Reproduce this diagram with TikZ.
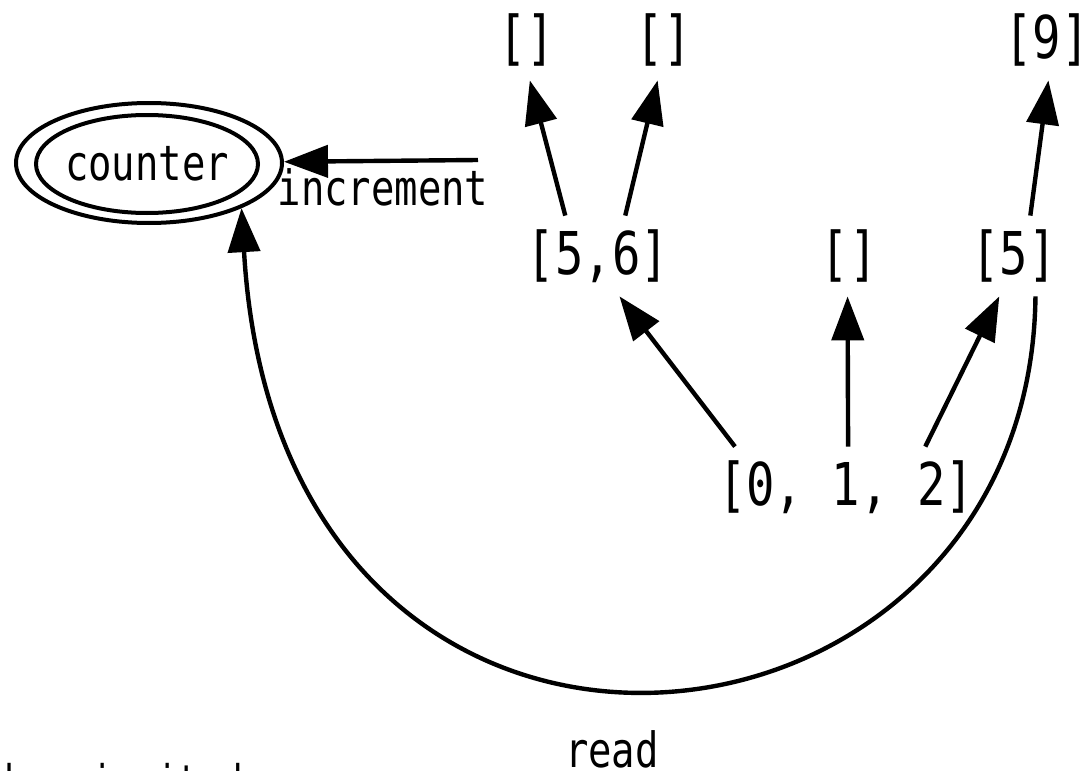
\documentclass[tikz,border=0pt]{standalone}
\usepackage{fontspec}
\usetikzlibrary{arrows.meta,shapes.geometric}
\newfontfamily\cellfont[FakeStretch=0.8]{DejaVu Sans Mono}
\newcommand{\cellsize}{\fontsize{29.5pt}{32pt}\selectfont}
\newcommand{\tagsize}{\fontsize{24.3pt}{28pt}\selectfont}
\newcommand{\notesize}{\fontsize{22.5pt}{26pt}\selectfont}

\tikzset{
  lst/.style={font=\cellfont\cellsize, inner sep=0pt, minimum height=40pt},
  tag/.style={font=\cellfont\tagsize, inner sep=0pt},
  ring/.style={ellipse, draw, line width=2pt},
  ptr/.style={line width=2.2pt, -{Triangle[length=22pt,width=16pt]}},
}

\begin{document}
\begin{tikzpicture}[x=0.5pt, y=-0.5pt]
  \useasboundingbox (0,0) rectangle (1084,771);

  % counter cell, drawn as a double ring
  \node[tag, ring, inner xsep=-2pt, minimum width=111pt, minimum height=49pt] (counter) at (147,164) {counter};
  \node[ring, minimum width=133pt, minimum height=60pt] (cntring) at (149,163) {};

  % lists
  \node[lst] (emA) at (527,40) {[]};
  \node[lst] (emB) at (664,40) {[]};
  \node[lst] (l9) at (1047,40) {[9]};
  \node[lst] (l56) at (598,256) {[5,6]};
  \node[lst] (emC) at (849,256) {[]};
  \node[lst] (l5) at (1014,256) {[5]};
  \node[lst] (l012) at (846,487) {[0, 1, 2]};

  \draw[ptr] (l56.129.5) -- (emA.274.3);
  \draw[ptr] (l56.56) -- (emB.261.5);
  \draw[ptr] (l5.68.2) -- (l9.272);
  \draw[ptr] (l012.160.7) -- (l56.298.8);
  \draw[ptr] (l012.87) -- (emC.268.6);
  \draw[ptr] (l012.27.8) -- (l5.250.7);

  % read goes back round to the counter
  \draw[ptr] (l5.298.8) .. controls (1030,790) and (280,875) .. (cntring.334.7);
  \node[tag, anchor=base] (readl) at (612,767) {read};

  \coordinate (incsrc) at (478,160);
  \draw[ptr] (incsrc) -- (cntring);
  \node[tag, anchor=base] (incl) at (383,205) {increment};

  \node[font=\cellfont\notesize, inner sep=0pt, anchor=base west] (note) at (4,797) {how is it done};
\end{tikzpicture}
\end{document}
